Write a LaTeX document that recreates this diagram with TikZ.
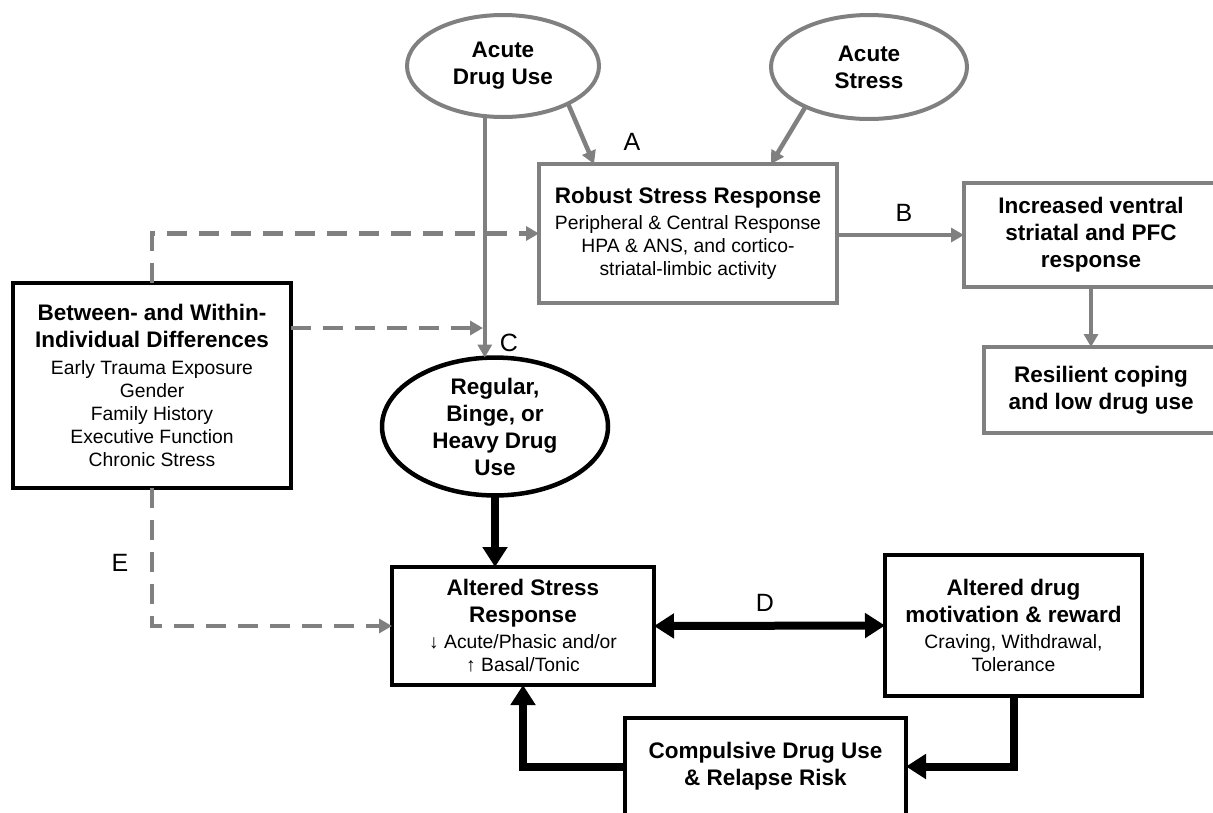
\documentclass[tikz,border=0pt]{standalone}
\usepackage{fontspec}
\setmainfont{Liberation Sans}
\usetikzlibrary{arrows.meta, positioning, shapes.geometric, calc}

\newcommand{\headfont}{\fontsize{22.5}{27}\selectfont\bfseries}
\newcommand{\bodyfont}{\fontsize{19.3}{23}\selectfont}

\begin{document}
\begin{tikzpicture}[
        x=1pt, y=-1pt,
        font=\bodyfont,
        box/.style={
            draw,
            rectangle,
            line width=4pt,
            align=center,
            inner sep=0pt,
            outer sep=0pt
        },
        grayBox/.style={box, draw=gray},
        blackBox/.style={box, draw=black, line width=4.5pt},
        oval/.style={
            draw,
            ellipse,
            line width=4pt,
            align=center,
            inner sep=0pt,
            outer sep=0pt,
            font=\headfont
        },
        grayOval/.style={oval, draw=gray},
        blackOval/.style={oval, draw=black, line width=4.5pt},
        grayArrow/.style={-{Triangle[length=13pt, width=14pt]}, draw=gray, line width=4.5pt},
        dashArrow/.style={grayArrow, dash pattern=on 20pt off 12pt},
        thickArrow/.style={-{Triangle[length=20pt, width=24pt]}, line width=8pt},
        thickBoth/.style={thickArrow, {Triangle[length=20pt, width=24pt]}-{Triangle[length=20pt, width=24pt]}},
        pathLabel/.style={font=\fontsize{25}{30}\selectfont, inner sep=0pt}
    ]

        \useasboundingbox (0,0) rectangle (1213,812);

        % ---- Nodes ----
        \node[grayOval, minimum width=192pt, minimum height=102pt] (drugUse) at (503,66) {Acute\\Drug Use};
        \node[grayOval, minimum width=196pt, minimum height=104pt] (stress) at (869,67) {Acute\\Stress};

        \node[grayBox, minimum width=298pt, minimum height=139pt] (robust) at (688,233.5)
            {{\headfont Robust Stress Response}\\[3pt]
             Peripheral \& Central Response\\
             HPA \& ANS, and cortico-\\
             striatal-limbic activity};
        \node[grayBox, minimum width=254pt, minimum height=104pt, font=\headfont] (ventral) at (1091,235)
            {Increased ventral\\striatal and PFC\\response};
        \node[grayBox, minimum width=234pt, minimum height=86pt, font=\headfont] (coping) at (1101,390)
            {Resilient coping\\and low drug use};

        \node[blackBox, minimum width=278pt, minimum height=205pt] (diffs) at (152,385.5)
            {{\headfont Between- and Within-}\\[4pt]
             {\headfont Individual Differences}\\[4pt]
             Early Trauma Exposure\\
             Gender\\
             Family History\\
             Executive Function\\
             Chronic Stress};
        \node[blackOval, minimum width=226pt, minimum height=123pt] (heavyUse) at (495,426.5)
            {Regular,\\Binge, or\\Heavy Drug\\Use};

        \node[blackBox, minimum width=262pt, minimum height=118pt] (altStress) at (523,626)
            {{\headfont Altered Stress}\\[4pt]
             {\headfont Response}\\[3pt]
             ↓ Acute/Phasic and/or\\
             ↑ Basal/Tonic};
        \node[blackBox, minimum width=257pt, minimum height=141pt] (altDrug) at (1013.5,625.5)
            {{\headfont Altered drug}\\[4pt]
             {\headfont motivation \& reward}\\[3pt]
             Craving, Withdrawal,\\
             Tolerance};
        \node[blackBox, minimum width=281pt, minimum height=97pt, font=\headfont] (relapse) at (765.5,766.5)
            {Compulsive Drug Use\\\& Relapse Risk};

        % ---- Path labels ----
        \node[pathLabel] (labA) at (632,142) {A};
        \node[pathLabel] (labB) at (904,213) {B};
        \node[pathLabel] (labC) at (509,343) {C};
        \node[pathLabel] (labD) at (765,603) {D};
        \node[pathLabel] (labE) at (120,563) {E};

        \coordinate (cJoin) at (483,328);

        % ---- Arrows ----
        \draw[grayArrow] (drugUse.-30) -- ([xshift=-94pt]robust.north);
        \draw[grayArrow] (stress.212) -- ([xshift=83pt]robust.north);
        \draw[grayArrow] (drugUse.250) -- (drugUse.250 |- heavyUse.north);
        \draw[grayArrow] (robust.east |- ventral.west) -- (ventral.west);
        \draw[grayArrow] (ventral.south) -- (ventral.south |- coping.north);

        \draw[dashArrow] (diffs.north) |- (robust.west);
        \draw[dashArrow] (diffs.east |- cJoin) -- (cJoin);
        \draw[dashArrow] (diffs.south) |- (altStress.west);

        \draw[thickArrow] (heavyUse.south) -- (heavyUse.south |- altStress.north);
        \draw[thickBoth] (altStress.east) -- (altDrug.west);
        \draw[thickArrow] (altDrug.south) |- (relapse.east);
        \draw[thickArrow] (relapse.west) -| (altStress.south);

    \end{tikzpicture}
\end{document}
